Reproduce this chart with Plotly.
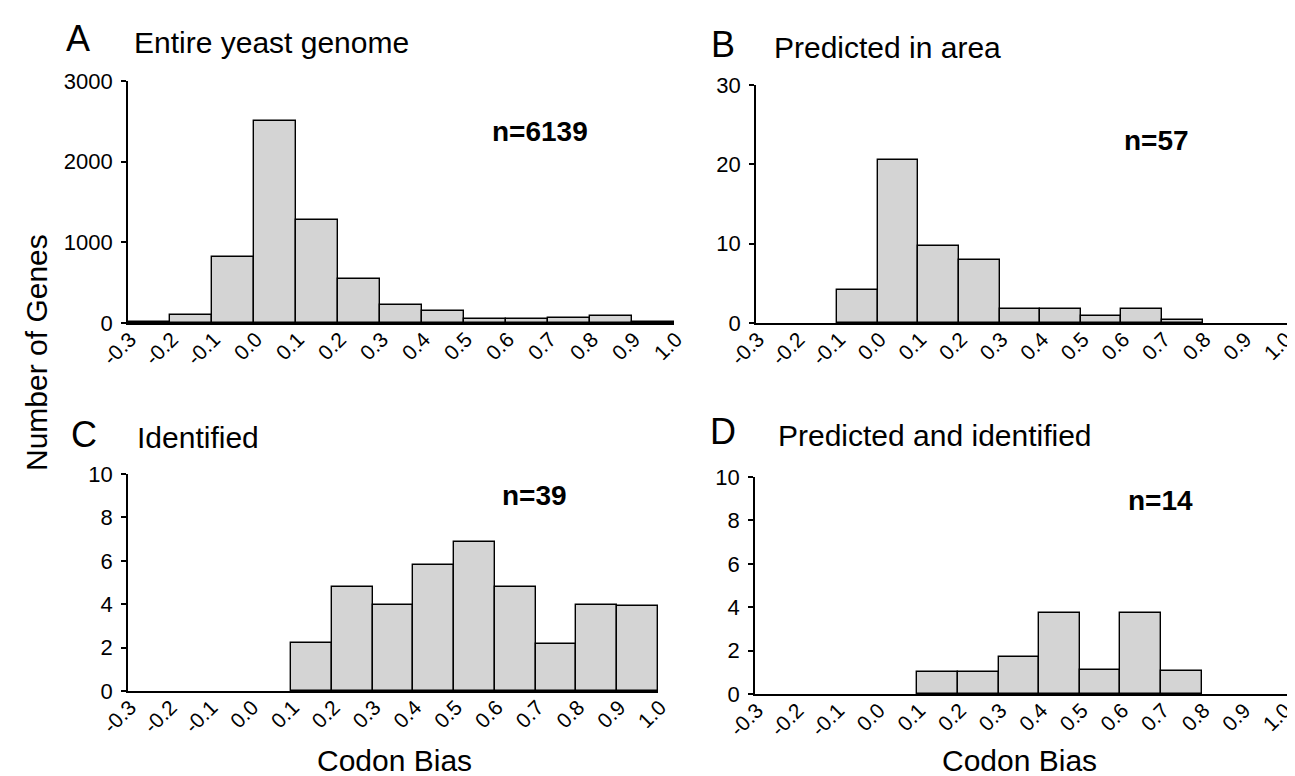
import plotly.graph_objects as go

W, H = 1295, 776

# ---- data ----
bin_starts = [-0.3, -0.2, -0.1, 0.0, 0.1, 0.2, 0.3, 0.4, 0.5, 0.6, 0.7, 0.8, 0.9]
tick_vals = [-0.3, -0.2, -0.1, 0.0, 0.1, 0.2, 0.3, 0.4, 0.5, 0.6, 0.7, 0.8, 0.9, 1.0]
tick_text = ["-0.3", "-0.2", "-0.1", "0.0", "0.1", "0.2", "0.3", "0.4", "0.5",
             "0.6", "0.7", "0.8", "0.9", "1.0"]

counts_A = [10, 95, 815, 2510, 1275, 540, 228, 145, 55, 52, 63, 88, 18]
counts_B = [None, None, 4.1, 20.6, 9.7, 8.0, 1.8, 1.8, 0.85, 1.8, 0.35, None, None]
counts_C = [None, None, None, None, 2.2, 4.8, 3.95, 5.8, 6.85, 4.8, 2.15, 3.95, 3.9]
counts_D = [None, None, None, None, 1.0, 1.0, 1.7, 3.75, 1.1, 3.75, 1.08, None, None]

titles = ["Entire yeast genome", "Predicted in area", "Identified", "Predicted and identified"]
letters = ["A", "B", "C", "D"]
n_labels = ["n=6139", "n=57", "n=39", "n=14"]
y_ticks_top_A = [0, 1000, 2000, 3000]
y_ticks_top_B = [0, 10, 20, 30]
y_ticks_bottom = [0, 2, 4, 6, 8, 10]
x_title = "Codon Bias"
y_title = "Number of Genes"

FONT = "Liberation Sans, Arial, sans-serif"
BAR_FILL = "#d4d4d4"


def px_x(v):
    return v / W


def px_y(v):
    return 1 - v / H


panels = [
    dict(c=counts_A, xd=(120, 666), xmax=1.0, yd=(315, 73), yr=3000, yt=y_ticks_top_A),
    dict(c=counts_B, xd=(748, 1284), xmax=1.02, yd=(315, 77), yr=30, yt=y_ticks_top_B),
    dict(c=counts_C, xd=(120, 650), xmax=1.0, yd=(683, 466), yr=10, yt=y_ticks_bottom),
    dict(c=counts_D, xd=(747, 1283), xmax=1.02, yd=(686, 469), yr=10, yt=y_ticks_bottom),
]

fig = go.Figure()
layout = {}
for i, p in enumerate(panels):
    k = "" if i == 0 else str(i + 1)
    fig.add_trace(go.Bar(
        x=bin_starts, y=p["c"], width=0.1, offset=0,
        marker=dict(color=BAR_FILL, line=dict(color="black", width=1.4)),
        xaxis="x" + k, yaxis="y" + k, showlegend=False, hoverinfo="x+y",
    ))
    layout["xaxis" + k] = dict(
        domain=[px_x(p["xd"][0]), px_x(p["xd"][1])],
        range=[-0.3, p["xmax"]], anchor="y" + k, automargin=False,
        tickvals=tick_vals, ticktext=tick_text, tickangle=-45,
        ticklabelshift=2, ticklabelstandoff=-6, ticklabeloverflow="allow",
        showline=True, linecolor="black", linewidth=1.6,
        ticks="", showgrid=False, zeroline=False,
        tickfont=dict(family=FONT, size=21, color="black"),
    )
    layout["yaxis" + k] = dict(
        domain=[px_y(p["yd"][0]), px_y(p["yd"][1])],
        range=[0, p["yr"]], anchor="x" + k, automargin=False,
        tickvals=p["yt"], ticks="outside", ticklen=5, tickwidth=1.5, tickcolor="black",
        ticklabelstandoff=4,
        showline=True, linecolor="black", linewidth=1.6,
        showgrid=False, zeroline=False,
        tickfont=dict(family=FONT, size=22, color="black"),
    )

annotations = []
letter_pos = [(70, 31), (715, 36), (76, 426), (715, 424)]
title_pos = [(124, 35), (764, 39), (127, 429), (768, 427)]
n_pos = [(532, 124), (1148, 132), (526, 487), (1152, 492)]
for i in range(4):
    annotations.append(dict(
        text=letters[i], x=px_x(letter_pos[i][0]), y=px_y(letter_pos[i][1]),
        xref="paper", yref="paper", xanchor="center", yanchor="middle", showarrow=False,
        font=dict(family=FONT, size=36, color="black")))
    annotations.append(dict(
        text=titles[i], x=px_x(title_pos[i][0]), y=px_y(title_pos[i][1]),
        xref="paper", yref="paper", xanchor="left", yanchor="middle", showarrow=False,
        font=dict(family=FONT, size=30, color="black")))
    annotations.append(dict(
        text="<b>" + n_labels[i] + "</b>", x=px_x(n_pos[i][0]), y=px_y(n_pos[i][1]),
        xref="paper", yref="paper", xanchor="center", yanchor="middle", showarrow=False,
        font=dict(family=FONT, size=28, color="black")))

annotations.append(dict(
    text=y_title, x=px_x(28), y=px_y(345), xref="paper", yref="paper",
    xanchor="center", yanchor="middle", textangle=-90, showarrow=False,
    font=dict(family=FONT, size=30, color="black")))
for cx in (386, 1012):
    annotations.append(dict(
        text=x_title, x=px_x(cx), y=px_y(752), xref="paper", yref="paper",
        xanchor="center", yanchor="middle", showarrow=False,
        font=dict(family=FONT, size=30, color="black")))

fig.update_layout(
    width=W, height=H,
    margin=dict(l=0, r=0, t=0, b=0, autoexpand=False),
    paper_bgcolor="white", plot_bgcolor="white",
    bargap=0, annotations=annotations,
    **layout,
)

fig.write_html("out.html")
